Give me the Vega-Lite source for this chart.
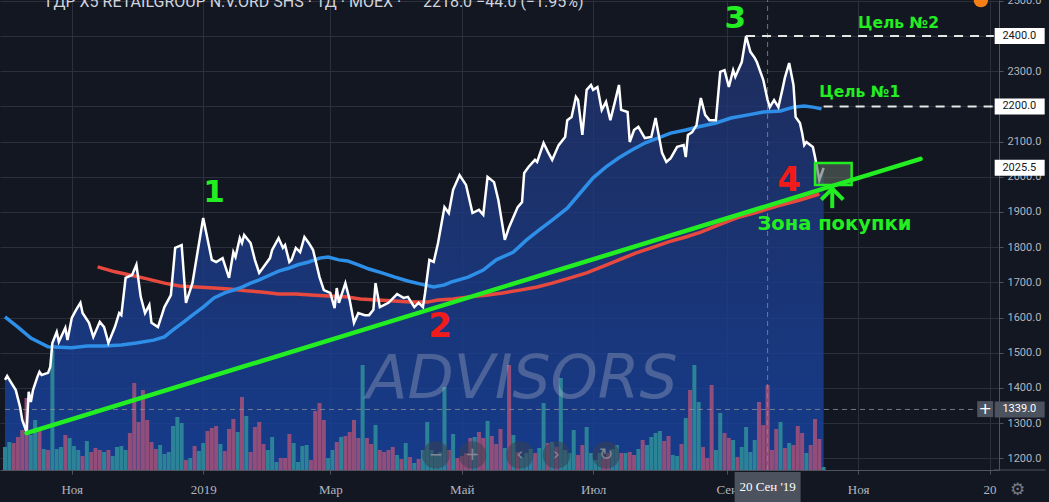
{
  "$schema": "https://vega.github.io/schema/vega-lite/v6.json",
  "width": 999,
  "height": 470,
  "autosize": {"type": "none"},
  "padding": {"left": 0, "top": 0, "right": 50, "bottom": 32},
  "background": "#131722",
  "config": {"view": {"stroke": null}, "font": "Roboto"},
  "datasets": {
    "px": [
      {"d":"2018-10-01","p":1423},{"d":"2018-10-02","p":1434},{"d":"2018-10-04","p":1414},{"d":"2018-10-06","p":1394},{"d":"2018-10-08","p":1346},{"d":"2018-10-09","p":1309},{"d":"2018-10-11","p":1275},{"d":"2018-10-12","p":1389},{"d":"2018-10-13","p":1360},{"d":"2018-10-14","p":1394},{"d":"2018-10-16","p":1431},{"d":"2018-10-17","p":1446},{"d":"2018-10-18","p":1437},{"d":"2018-10-21","p":1443},{"d":"2018-10-22","p":1460},{"d":"2018-10-23","p":1528},{"d":"2018-10-25","p":1559},{"d":"2018-10-26","p":1531},{"d":"2018-10-29","p":1571},{"d":"2018-10-30","p":1536},
      {"d":"2018-11-01","p":1599},{"d":"2018-11-03","p":1622},{"d":"2018-11-05","p":1642},{"d":"2018-11-06","p":1613},{"d":"2018-11-09","p":1585},{"d":"2018-11-11","p":1545},{"d":"2018-11-14","p":1588},{"d":"2018-11-16","p":1573},{"d":"2018-11-18","p":1528},{"d":"2018-11-21","p":1573},{"d":"2018-11-23","p":1613},{"d":"2018-11-24","p":1607},{"d":"2018-11-26","p":1713},{"d":"2018-11-29","p":1721},
      {"d":"2018-12-01","p":1750},{"d":"2018-12-03","p":1659},{"d":"2018-12-05","p":1613},{"d":"2018-12-07","p":1636},{"d":"2018-12-08","p":1585},{"d":"2018-12-11","p":1573},{"d":"2018-12-14","p":1630},{"d":"2018-12-17","p":1664},{"d":"2018-12-19","p":1798},{"d":"2018-12-22","p":1806},{"d":"2018-12-24","p":1642},{"d":"2018-12-27","p":1698},
      {"d":"2019-01-01","p":1883},{"d":"2019-01-05","p":1764},{"d":"2019-01-07","p":1758},{"d":"2019-01-10","p":1769},{"d":"2019-01-13","p":1713},{"d":"2019-01-15","p":1786},{"d":"2019-01-16","p":1772},{"d":"2019-01-18","p":1826},{"d":"2019-01-19","p":1812},{"d":"2019-01-20","p":1835},{"d":"2019-01-23","p":1812},{"d":"2019-01-25","p":1764},{"d":"2019-01-27","p":1727},{"d":"2019-01-29","p":1744},
      {"d":"2019-02-01","p":1769},{"d":"2019-02-02","p":1792},{"d":"2019-02-05","p":1826},{"d":"2019-02-07","p":1798},{"d":"2019-02-08","p":1806},{"d":"2019-02-10","p":1758},{"d":"2019-02-11","p":1764},{"d":"2019-02-13","p":1798},{"d":"2019-02-15","p":1786},{"d":"2019-02-17","p":1829},{"d":"2019-02-19","p":1812},{"d":"2019-02-21","p":1792},{"d":"2019-02-24","p":1715},{"d":"2019-02-26","p":1678},
      {"d":"2019-03-01","p":1670},{"d":"2019-03-03","p":1627},{"d":"2019-03-04","p":1684},{"d":"2019-03-05","p":1642},{"d":"2019-03-08","p":1698},{"d":"2019-03-10","p":1650},{"d":"2019-03-12","p":1585},{"d":"2019-03-14","p":1613},{"d":"2019-03-17","p":1607},{"d":"2019-03-19","p":1607},{"d":"2019-03-21","p":1622},{"d":"2019-03-22","p":1698},{"d":"2019-03-24","p":1630},{"d":"2019-03-28","p":1642},
      {"d":"2019-04-01","p":1667},{"d":"2019-04-04","p":1656},{"d":"2019-04-06","p":1659},{"d":"2019-04-09","p":1630},{"d":"2019-04-11","p":1642},{"d":"2019-04-13","p":1630},{"d":"2019-04-14","p":1670},{"d":"2019-04-16","p":1764},{"d":"2019-04-18","p":1758},{"d":"2019-04-20","p":1812},{"d":"2019-04-23","p":1914},{"d":"2019-04-25","p":1897},{"d":"2019-04-27","p":1963},{"d":"2019-04-30","p":2005},
      {"d":"2019-05-03","p":1977},{"d":"2019-05-06","p":1897},{"d":"2019-05-09","p":1906},{"d":"2019-05-11","p":1892},{"d":"2019-05-13","p":2000},{"d":"2019-05-16","p":1985},{"d":"2019-05-18","p":1934},{"d":"2019-05-21","p":1821},{"d":"2019-05-23","p":1857},{"d":"2019-05-27","p":1914},{"d":"2019-05-29","p":1928},{"d":"2019-05-30","p":2011},
      {"d":"2019-06-01","p":2028},{"d":"2019-06-04","p":2048},{"d":"2019-06-05","p":2042},{"d":"2019-06-08","p":2096},{"d":"2019-06-10","p":2071},{"d":"2019-06-12","p":2048},{"d":"2019-06-15","p":2090},{"d":"2019-06-18","p":2113},{"d":"2019-06-19","p":2161},{"d":"2019-06-21","p":2170},{"d":"2019-06-23","p":2227},{"d":"2019-06-24","p":2218},{"d":"2019-06-26","p":2119},{"d":"2019-06-28","p":2247},{"d":"2019-06-30","p":2261},
      {"d":"2019-07-01","p":2247},{"d":"2019-07-03","p":2255},{"d":"2019-07-05","p":2190},{"d":"2019-07-07","p":2213},{"d":"2019-07-09","p":2161},{"d":"2019-07-11","p":2210},{"d":"2019-07-13","p":2261},{"d":"2019-07-14","p":2190},{"d":"2019-07-17","p":2184},{"d":"2019-07-18","p":2099},{"d":"2019-07-20","p":2133},{"d":"2019-07-22","p":2142},{"d":"2019-07-25","p":2110},{"d":"2019-07-28","p":2113},{"d":"2019-07-30","p":2167},{"d":"2019-07-31","p":2133},
      {"d":"2019-08-02","p":2068},{"d":"2019-08-04","p":2042},{"d":"2019-08-06","p":2053},{"d":"2019-08-09","p":2085},{"d":"2019-08-12","p":2090},{"d":"2019-08-13","p":2056},{"d":"2019-08-14","p":2119},{"d":"2019-08-16","p":2127},{"d":"2019-08-18","p":2147},{"d":"2019-08-20","p":2224},{"d":"2019-08-22","p":2176},{"d":"2019-08-24","p":2161},{"d":"2019-08-27","p":2161},{"d":"2019-08-29","p":2298},{"d":"2019-08-31","p":2303},
      {"d":"2019-09-02","p":2255},{"d":"2019-09-04","p":2303},{"d":"2019-09-05","p":2284},{"d":"2019-09-08","p":2326},{"d":"2019-09-10","p":2400},{"d":"2019-09-12","p":2355},{"d":"2019-09-14","p":2338},{"d":"2019-09-15","p":2326},{"d":"2019-09-18","p":2275},{"d":"2019-09-20","p":2218},{"d":"2019-09-21","p":2198},{"d":"2019-09-23","p":2218},{"d":"2019-09-25","p":2198},{"d":"2019-09-27","p":2252},{"d":"2019-09-28","p":2281},{"d":"2019-09-30","p":2323},
      {"d":"2019-10-02","p":2261},{"d":"2019-10-03","p":2170},{"d":"2019-10-05","p":2153},{"d":"2019-10-06","p":2125},{"d":"2019-10-07","p":2090},{"d":"2019-10-08","p":2099},{"d":"2019-10-11","p":2085},{"d":"2019-10-12","p":2056},{"d":"2019-10-14","p":1991},{"d":"2019-10-16","p":2025.5}
    ],
    "vol": [
      {"d":"2018-10-01","v":230,"c":"u"},{"d":"2018-10-03","v":280,"c":"u"},{"d":"2018-10-05","v":270,"c":"d"},{"d":"2018-10-07","v":330,"c":"d"},{"d":"2018-10-09","v":400,"c":"d"},{"d":"2018-10-11","v":720,"c":"d"},{"d":"2018-10-13","v":350,"c":"u"},{"d":"2018-10-15","v":500,"c":"u"},{"d":"2018-10-17","v":420,"c":"d"},{"d":"2018-10-19","v":210,"c":"u"},{"d":"2018-10-21","v":200,"c":"d"},{"d":"2018-10-23","v":1200,"c":"u"},{"d":"2018-10-25","v":210,"c":"u"},{"d":"2018-10-27","v":230,"c":"u"},{"d":"2018-10-29","v":350,"c":"d"},{"d":"2018-10-31","v":320,"c":"u"},
      {"d":"2018-11-02","v":240,"c":"u"},{"d":"2018-11-04","v":200,"c":"u"},{"d":"2018-11-06","v":140,"c":"d"},{"d":"2018-11-08","v":290,"c":"u"},{"d":"2018-11-10","v":180,"c":"d"},{"d":"2018-11-12","v":220,"c":"d"},{"d":"2018-11-14","v":200,"c":"d"},{"d":"2018-11-16","v":180,"c":"u"},{"d":"2018-11-18","v":200,"c":"d"},{"d":"2018-11-20","v":140,"c":"u"},{"d":"2018-11-22","v":230,"c":"u"},{"d":"2018-11-24","v":240,"c":"u"},{"d":"2018-11-26","v":200,"c":"u"},{"d":"2018-11-28","v":370,"c":"d"},{"d":"2018-11-30","v":870,"c":"d"},
      {"d":"2018-12-02","v":480,"c":"d"},{"d":"2018-12-04","v":800,"c":"d"},{"d":"2018-12-06","v":500,"c":"d"},{"d":"2018-12-08","v":280,"c":"d"},{"d":"2018-12-10","v":210,"c":"d"},{"d":"2018-12-12","v":250,"c":"u"},{"d":"2018-12-14","v":160,"c":"u"},{"d":"2018-12-16","v":180,"c":"u"},{"d":"2018-12-18","v":440,"c":"u"},{"d":"2018-12-20","v":530,"c":"u"},{"d":"2018-12-22","v":470,"c":"u"},{"d":"2018-12-24","v":100,"c":"d"},{"d":"2018-12-26","v":120,"c":"u"},{"d":"2018-12-28","v":240,"c":"d"},{"d":"2018-12-30","v":190,"c":"u"},
      {"d":"2019-01-01","v":270,"c":"u"},{"d":"2019-01-03","v":390,"c":"d"},{"d":"2019-01-05","v":420,"c":"d"},{"d":"2019-01-07","v":440,"c":"d"},{"d":"2019-01-09","v":260,"c":"u"},{"d":"2019-01-11","v":190,"c":"d"},{"d":"2019-01-13","v":410,"c":"d"},{"d":"2019-01-15","v":510,"c":"d"},{"d":"2019-01-17","v":380,"c":"u"},{"d":"2019-01-19","v":730,"c":"d"},{"d":"2019-01-21","v":540,"c":"u"},{"d":"2019-01-23","v":180,"c":"d"},{"d":"2019-01-25","v":430,"c":"d"},{"d":"2019-01-27","v":480,"c":"d"},{"d":"2019-01-29","v":260,"c":"d"},{"d":"2019-01-31","v":200,"c":"u"},
      {"d":"2019-02-02","v":330,"c":"u"},{"d":"2019-02-04","v":80,"c":"u"},{"d":"2019-02-06","v":120,"c":"d"},{"d":"2019-02-08","v":120,"c":"d"},{"d":"2019-02-10","v":360,"c":"d"},{"d":"2019-02-12","v":270,"c":"u"},{"d":"2019-02-14","v":80,"c":"u"},{"d":"2019-02-16","v":240,"c":"u"},{"d":"2019-02-18","v":250,"c":"u"},{"d":"2019-02-20","v":100,"c":"d"},{"d":"2019-02-22","v":590,"c":"d"},{"d":"2019-02-24","v":670,"c":"d"},{"d":"2019-02-26","v":500,"c":"d"},{"d":"2019-02-28","v":120,"c":"u"},
      {"d":"2019-03-02","v":200,"c":"u"},{"d":"2019-03-04","v":280,"c":"d"},{"d":"2019-03-06","v":330,"c":"u"},{"d":"2019-03-08","v":340,"c":"d"},{"d":"2019-03-10","v":380,"c":"d"},{"d":"2019-03-12","v":500,"c":"d"},{"d":"2019-03-14","v":320,"c":"d"},{"d":"2019-03-16","v":1050,"c":"u"},{"d":"2019-03-18","v":320,"c":"d"},{"d":"2019-03-20","v":260,"c":"d"},{"d":"2019-03-22","v":450,"c":"u"},{"d":"2019-03-24","v":200,"c":"d"},{"d":"2019-03-26","v":180,"c":"d"},{"d":"2019-03-28","v":200,"c":"d"},{"d":"2019-03-30","v":230,"c":"d"},
      {"d":"2019-04-01","v":150,"c":"u"},{"d":"2019-04-03","v":110,"c":"d"},{"d":"2019-04-05","v":270,"c":"u"},{"d":"2019-04-07","v":130,"c":"d"},{"d":"2019-04-09","v":70,"c":"u"},{"d":"2019-04-11","v":110,"c":"d"},{"d":"2019-04-13","v":200,"c":"u"},{"d":"2019-04-15","v":480,"c":"u"},{"d":"2019-04-17","v":200,"c":"u"},{"d":"2019-04-19","v":150,"c":"u"},{"d":"2019-04-21","v":180,"c":"u"},{"d":"2019-04-23","v":830,"c":"u"},{"d":"2019-04-25","v":200,"c":"d"},{"d":"2019-04-27","v":360,"c":"u"},{"d":"2019-04-29","v":120,"c":"d"},
      {"d":"2019-05-01","v":140,"c":"d"},{"d":"2019-05-03","v":170,"c":"d"},{"d":"2019-05-05","v":320,"c":"d"},{"d":"2019-05-07","v":330,"c":"u"},{"d":"2019-05-09","v":380,"c":"d"},{"d":"2019-05-11","v":320,"c":"d"},{"d":"2019-05-13","v":490,"c":"u"},{"d":"2019-05-15","v":340,"c":"d"},{"d":"2019-05-17","v":260,"c":"d"},{"d":"2019-05-19","v":410,"c":"d"},{"d":"2019-05-21","v":220,"c":"u"},{"d":"2019-05-23","v":1050,"c":"d"},{"d":"2019-05-25","v":350,"c":"u"},{"d":"2019-05-27","v":180,"c":"d"},{"d":"2019-05-29","v":130,"c":"u"},{"d":"2019-05-31","v":170,"c":"u"},
      {"d":"2019-06-02","v":210,"c":"u"},{"d":"2019-06-04","v":170,"c":"d"},{"d":"2019-06-06","v":220,"c":"u"},{"d":"2019-06-08","v":670,"c":"u"},{"d":"2019-06-10","v":270,"c":"d"},{"d":"2019-06-12","v":280,"c":"u"},{"d":"2019-06-14","v":230,"c":"d"},{"d":"2019-06-16","v":920,"c":"u"},{"d":"2019-06-18","v":200,"c":"u"},{"d":"2019-06-20","v":170,"c":"u"},{"d":"2019-06-22","v":400,"c":"u"},{"d":"2019-06-24","v":150,"c":"d"},{"d":"2019-06-26","v":250,"c":"d"},{"d":"2019-06-28","v":430,"c":"u"},{"d":"2019-06-30","v":170,"c":"u"},
      {"d":"2019-07-02","v":100,"c":"u"},{"d":"2019-07-04","v":170,"c":"u"},{"d":"2019-07-06","v":120,"c":"d"},{"d":"2019-07-08","v":170,"c":"d"},{"d":"2019-07-10","v":210,"c":"u"},{"d":"2019-07-12","v":250,"c":"u"},{"d":"2019-07-14","v":170,"c":"d"},{"d":"2019-07-16","v":170,"c":"u"},{"d":"2019-07-18","v":180,"c":"d"},{"d":"2019-07-20","v":150,"c":"d"},{"d":"2019-07-22","v":210,"c":"u"},{"d":"2019-07-24","v":300,"c":"d"},{"d":"2019-07-26","v":250,"c":"u"},{"d":"2019-07-28","v":330,"c":"u"},{"d":"2019-07-30","v":370,"c":"u"},
      {"d":"2019-08-01","v":390,"c":"u"},{"d":"2019-08-03","v":290,"c":"d"},{"d":"2019-08-05","v":340,"c":"d"},{"d":"2019-08-07","v":150,"c":"u"},{"d":"2019-08-09","v":140,"c":"u"},{"d":"2019-08-11","v":260,"c":"d"},{"d":"2019-08-13","v":520,"c":"u"},{"d":"2019-08-15","v":800,"c":"d"},{"d":"2019-08-17","v":1050,"c":"u"},{"d":"2019-08-19","v":680,"c":"u"},{"d":"2019-08-21","v":230,"c":"d"},{"d":"2019-08-23","v":120,"c":"d"},{"d":"2019-08-25","v":850,"c":"d"},{"d":"2019-08-27","v":200,"c":"u"},{"d":"2019-08-29","v":570,"c":"u"},{"d":"2019-08-31","v":370,"c":"d"},
      {"d":"2019-09-02","v":320,"c":"d"},{"d":"2019-09-04","v":300,"c":"u"},{"d":"2019-09-06","v":130,"c":"d"},{"d":"2019-09-08","v":230,"c":"u"},{"d":"2019-09-10","v":430,"c":"u"},{"d":"2019-09-12","v":180,"c":"u"},{"d":"2019-09-14","v":300,"c":"u"},{"d":"2019-09-16","v":680,"c":"d"},{"d":"2019-09-18","v":450,"c":"d"},{"d":"2019-09-20","v":850,"c":"d"},{"d":"2019-09-22","v":200,"c":"d"},{"d":"2019-09-24","v":410,"c":"d"},{"d":"2019-09-26","v":480,"c":"u"},{"d":"2019-09-28","v":220,"c":"d"},{"d":"2019-09-30","v":270,"c":"u"},
      {"d":"2019-10-02","v":250,"c":"d"},{"d":"2019-10-04","v":440,"c":"d"},{"d":"2019-10-06","v":370,"c":"d"},{"d":"2019-10-08","v":170,"c":"u"},{"d":"2019-10-10","v":250,"c":"d"},{"d":"2019-10-12","v":510,"c":"d"},{"d":"2019-10-14","v":310,"c":"d"},{"d":"2019-10-16","v":30,"c":"u"}
    ],
    "ma50": [
      {"d":"2018-10-01","p":1602},{"d":"2018-10-07","p":1573},{"d":"2018-10-13","p":1542},{"d":"2018-10-21","p":1517},{"d":"2018-11-01","p":1514},{"d":"2018-11-08","p":1519},{"d":"2018-11-16","p":1519},{"d":"2018-11-24","p":1522},{"d":"2018-12-01","p":1528},{"d":"2018-12-09","p":1536},{"d":"2018-12-14","p":1545},{"d":"2018-12-18","p":1565},{"d":"2018-12-23","p":1588},{"d":"2018-12-27","p":1607},{"d":"2019-01-01","p":1630},{"d":"2019-01-06","p":1656},{"d":"2019-01-11","p":1670},{"d":"2019-01-18","p":1684},{"d":"2019-01-23","p":1698},{"d":"2019-01-27","p":1707},{"d":"2019-02-01","p":1721},{"d":"2019-02-05","p":1732},{"d":"2019-02-10","p":1741},{"d":"2019-02-14","p":1750},{"d":"2019-02-19","p":1758},{"d":"2019-02-24","p":1769},{"d":"2019-02-28","p":1772},{"d":"2019-03-05","p":1764},{"d":"2019-03-09","p":1761},{"d":"2019-03-14","p":1750},{"d":"2019-03-19","p":1738},{"d":"2019-03-25","p":1727},{"d":"2019-03-31","p":1715},{"d":"2019-04-06","p":1704},{"d":"2019-04-12","p":1695},{"d":"2019-04-18","p":1687},{"d":"2019-04-23","p":1693},{"d":"2019-04-26","p":1701},{"d":"2019-05-04","p":1715},{"d":"2019-05-11","p":1735},{"d":"2019-05-17","p":1764},{"d":"2019-05-25","p":1786},{"d":"2019-05-31","p":1820},{"d":"2019-06-06","p":1849},{"d":"2019-06-12","p":1877},{"d":"2019-06-19","p":1911},{"d":"2019-06-25","p":1954},{"d":"2019-07-01","p":1997},{"d":"2019-07-07","p":2028},{"d":"2019-07-13","p":2054},{"d":"2019-07-19","p":2076},{"d":"2019-07-25","p":2096},{"d":"2019-07-31","p":2110},{"d":"2019-08-06","p":2124},{"d":"2019-08-13","p":2133},{"d":"2019-08-19","p":2142},{"d":"2019-08-27","p":2153},{"d":"2019-09-03","p":2167},{"d":"2019-09-11","p":2176},{"d":"2019-09-18","p":2184},{"d":"2019-09-26","p":2187},{"d":"2019-10-02","p":2198},{"d":"2019-10-07","p":2201},{"d":"2019-10-11","p":2198},{"d":"2019-10-15","p":2193}
    ],
    "ma200": [
      {"d":"2018-11-13","p":1744},{"d":"2018-11-21","p":1730},{"d":"2018-11-28","p":1721},{"d":"2018-12-06","p":1710},{"d":"2018-12-14","p":1698},{"d":"2018-12-21","p":1690},{"d":"2018-12-29","p":1687},{"d":"2019-01-06","p":1684},{"d":"2019-01-13","p":1681},{"d":"2019-01-21","p":1676},{"d":"2019-01-28","p":1673},{"d":"2019-02-05","p":1667},{"d":"2019-02-13","p":1667},{"d":"2019-02-20","p":1664},{"d":"2019-02-28","p":1661},{"d":"2019-03-08","p":1659},{"d":"2019-03-15","p":1653},{"d":"2019-03-23","p":1650},{"d":"2019-03-31","p":1647},{"d":"2019-04-07","p":1644},{"d":"2019-04-15","p":1644},{"d":"2019-04-20","p":1650},{"d":"2019-04-27","p":1653},{"d":"2019-05-05","p":1659},{"d":"2019-05-13","p":1664},{"d":"2019-05-20","p":1670},{"d":"2019-05-28","p":1678},{"d":"2019-06-05","p":1687},{"d":"2019-06-12","p":1698},{"d":"2019-06-20","p":1712},{"d":"2019-06-28","p":1727},{"d":"2019-07-05","p":1744},{"d":"2019-07-13","p":1764},{"d":"2019-07-21","p":1784},{"d":"2019-07-28","p":1798},{"d":"2019-08-05","p":1815},{"d":"2019-08-13","p":1829},{"d":"2019-08-20","p":1843},{"d":"2019-08-28","p":1863},{"d":"2019-09-06","p":1884},{"d":"2019-09-15","p":1899},{"d":"2019-09-24","p":1916},{"d":"2019-10-05","p":1934},{"d":"2019-10-14","p":1951}
    ]
  },
  "encoding": {
    "x": {
      "field": "d", "type": "temporal",
      "scale": {"type": "utc", "domain": [{"year": 2018, "month": 10, "date": 1, "utc": true}, {"year": 2020, "month": 1, "date": 3, "hours": 2, "utc": true}]},
      "axis": {
        "title": null,
        "values": [
          {"year": 2018, "month": 11, "date": 1, "utc": true},
          {"year": 2019, "month": 1, "date": 1, "utc": true},
          {"year": 2019, "month": 3, "date": 1, "utc": true},
          {"year": 2019, "month": 5, "date": 1, "utc": true},
          {"year": 2019, "month": 7, "date": 1, "utc": true},
          {"year": 2019, "month": 9, "date": 1, "utc": true},
          {"year": 2019, "month": 11, "date": 1, "utc": true},
          {"year": 2020, "month": 1, "date": 1, "utc": true}
        ],
        "labelExpr": "utcyear(datum.value) == 2020 ? '20' : (utcmonth(datum.value) == 0 ? utcFormat(datum.value, '%Y') : ['Янв','Фев','Мар','Апр','Май','Июн','Июл','Авг','Сен','Окт','Ноя','Дек'][utcmonth(datum.value)])",
        "grid": true, "gridColor": "#2c303c",
        "domainColor": "#50535e", "tickColor": "#50535e", "tickSize": 4,
        "labelColor": "#b2b5be", "labelFont": "Liberation Sans Narrow", "labelFontSize": 13, "labelPadding": 9,
        "labelOverlap": false, "labelFlush": false
      }
    }
  },
  "layer": [
    {
      "data": {"name": "px"},
      "mark": {"type": "area", "color": {"gradient": "linear", "x1": 0, "y1": 0, "x2": 0, "y2": 1, "stops": [{"offset": 0, "color": "rgba(34,52,112,0.75)"}, {"offset": 1, "color": "rgba(22,66,158,0.85)"}]}},
      "encoding": {
        "y": {
          "field": "p", "type": "quantitative",
          "scale": {"domain": [1167, 2502.3], "nice": false, "zero": false},
          "axis": {
            "title": null, "orient": "right",
            "values": [1200, 1300, 1400, 1500, 1600, 1700, 1800, 1900, 2000, 2100, 2200, 2300, 2400, 2500],
            "format": ".1f",
            "labelExpr": "datum.value == 2400 || datum.value == 2200 ? '' : datum.label",
            "grid": true, "gridColor": "#2c303c",
            "domainColor": "#50535e", "tickColor": "#50535e", "tickSize": 4,
            "labelColor": "#b2b5be", "labelFont": "Roboto", "labelFontSize": 11, "labelPadding": 4
          }
        },
        "y2": {"datum": 1167}
      }
    },
    {
      "data": {"name": "vol"},
      "mark": {"type": "bar", "size": 4},
      "encoding": {
        "y": {"field": "v", "type": "quantitative", "scale": {"domain": [0, 4700], "nice": false}, "axis": null},
        "color": {"field": "c", "type": "nominal", "scale": {"domain": ["u", "d"], "range": ["#2c8296", "#924e7a"]}, "legend": null}
      }
    },
    {
      "encoding": {
        "y": {"field": "p", "type": "quantitative", "scale": {"domain": [1167, 2502.3], "nice": false, "zero": false}, "axis": null}
      },
      "layer": [
        {
          "data": {"values": [{"d": "2019-05-29", "p": 1423, "t": "ADVISORS"}]},
          "mark": {"type": "text", "font": "DejaVu Sans", "fontStyle": "italic", "fontSize": 60, "color": "#c3c7d3", "opacity": 0.3, "align": "center", "baseline": "middle"},
          "encoding": {"text": {"field": "t"}}
        },
        {
          "data": {"values": [{"d": "2019-09-20", "p": 1167, "p2": 2502.3}]},
          "mark": {"type": "rule", "color": "#8a8d96", "strokeWidth": 1, "strokeDash": [5, 4], "opacity": 0.8},
          "encoding": {"y2": {"field": "p2"}}
        },
        {
          "data": {"values": [{"d": "2018-10-01", "d2": "2020-01-03", "p": 1339}]},
          "mark": {"type": "rule", "color": "#8a8d96", "strokeWidth": 1, "strokeDash": [5, 4], "opacity": 0.8},
          "encoding": {"x2": {"field": "d2"}}
        },
        {
          "data": {"values": [{"d": "2020-01-03", "d2": "2020-01-27", "p": 1167}]},
          "mark": {"type": "rule", "color": "#50535e", "strokeWidth": 1},
          "encoding": {"x2": {"field": "d2"}}
        },
        {
          "data": {"name": "ma200"},
          "mark": {"type": "line", "color": "#e8493f", "strokeWidth": 3.5}
        },
        {
          "data": {"name": "ma50"},
          "mark": {"type": "line", "color": "#2e8fe8", "strokeWidth": 3.5}
        },
        {
          "data": {"name": "px"},
          "mark": {"type": "line", "color": "#ffffff", "strokeWidth": 2.5}
        },
        {
          "data": {"values": [{"d": "2019-09-10", "d2": "2020-01-03", "p": 2400}, {"d": "2019-10-16", "d2": "2020-01-03", "p": 2200}]},
          "mark": {"type": "rule", "color": "#e6e6e6", "strokeWidth": 2, "strokeDash": [9, 7]},
          "encoding": {"x2": {"field": "d2"}}
        },
        {
          "data": {"values": [{"d": "2019-10-12", "d2": "2019-10-29", "p": 2039, "p2": 1977}]},
          "mark": {"type": "rect", "fill": "#5b6b60", "fillOpacity": 0.6, "stroke": "#22ee22", "strokeWidth": 2.5},
          "encoding": {"x2": {"field": "d2"}, "y2": {"field": "p2"}}
        },
        {
          "data": {"values": [{"d": "2018-10-11", "p": 1272}, {"d": "2019-11-30", "p": 2051}]},
          "mark": {"type": "line", "color": "#22ee22", "strokeWidth": 4.5, "strokeCap": "round"}
        },
        {
          "data": {"values": [{"d": "2019-10-20", "p": 1962, "p2": 1911}]},
          "mark": {"type": "rule", "color": "#22ee22", "strokeWidth": 4},
          "encoding": {"y2": {"field": "p2"}}
        },
        {
          "data": {"values": [{"d": "2019-10-20", "p": 1951}]},
          "mark": {"type": "point", "shape": "M-1,0.5L0,-0.5L1,0.5", "size": 484, "filled": false, "stroke": "#22ee22", "strokeWidth": 4, "opacity": 1}
        },
        {
          "data": {"values": [{"d": "2019-04-19", "p": 1209.7}, {"d": "2019-05-06", "p": 1209.7}, {"d": "2019-05-28", "p": 1209.7}, {"d": "2019-06-14", "p": 1209.7}, {"d": "2019-07-07", "p": 1209.7}]},
          "mark": {"type": "point", "shape": "circle", "size": 760, "filled": true, "color": "#3b4050", "opacity": 0.55}
        },
        {
          "data": {"values": [{"d": "2019-04-19", "p": 1209.7, "t": "−"}, {"d": "2019-05-06", "p": 1209.7, "t": "+"}, {"d": "2019-05-28", "p": 1209.7, "t": "‹"}, {"d": "2019-06-14", "p": 1209.7, "t": "›"}, {"d": "2019-07-07", "p": 1209.7, "t": "↻"}]},
          "mark": {"type": "text", "font": "DejaVu Sans", "fontSize": 17, "color": "#9598a1", "opacity": 0.8, "align": "center", "baseline": "middle"},
          "encoding": {"text": {"field": "t"}}
        },
        {
          "data": {"values": [{"d": "2019-01-06", "p": 1953, "t": "1"}, {"d": "2019-09-05", "p": 2447, "t": "3"}]},
          "mark": {"type": "text", "font": "DejaVu Sans", "fontWeight": "bold", "fontSize": 31, "color": "#22ee22", "align": "center", "baseline": "middle"},
          "encoding": {"text": {"field": "t"}}
        },
        {
          "data": {"values": [{"d": "2019-04-21", "p": 1573, "t": "2"}, {"d": "2019-09-30", "p": 1987, "t": "4"}]},
          "mark": {"type": "text", "font": "DejaVu Sans", "fontWeight": "bold", "fontSize": 34, "color": "#f21b1b", "align": "center", "baseline": "middle"},
          "encoding": {"text": {"field": "t"}}
        },
        {
          "data": {"values": [{"d": "2019-11-01", "p": 2437, "t": "Цель №2"}, {"d": "2019-10-14", "p": 2241, "t": "Цель №1"}]},
          "mark": {"type": "text", "font": "DejaVu Sans", "fontWeight": "bold", "fontSize": 15.5, "color": "#22ee22", "align": "left", "baseline": "middle"},
          "encoding": {"text": {"field": "t"}}
        },
        {
          "data": {"values": [{"d": "2019-10-21", "p": 1867, "t": "Зона покупки"}]},
          "mark": {"type": "text", "font": "DejaVu Sans", "fontWeight": "bold", "fontSize": 19.5, "color": "#22ee22", "align": "center", "baseline": "middle"},
          "encoding": {"text": {"field": "t"}}
        },
        {
          "data": {"values": [{"d": "2018-10-20", "p": 2482.4, "t": "ГДР X5 RETAILGROUP N.V.ORD SHS · 1Д · MOEX ·"}]},
          "mark": {"type": "text", "font": "Roboto", "fontSize": 16, "color": "#d1d4dc", "align": "left", "baseline": "alphabetic"},
          "encoding": {"text": {"field": "t"}}
        },
        {
          "data": {"values": [{"d": "2019-04-13", "p": 2482.4, "t": "2218.0  −44.0 (−1.95%)"}]},
          "mark": {"type": "text", "font": "Roboto", "fontSize": 16, "color": "#d1d4dc", "align": "left", "baseline": "alphabetic"},
          "encoding": {"text": {"field": "t"}}
        },
        {
          "data": {"values": [{"d": "2019-12-28", "p": 2502}]},
          "mark": {"type": "point", "shape": "circle", "size": 210, "filled": true, "color": "#f57f17", "opacity": 1}
        },
        {
          "data": {"values": [{"d": "2020-01-15", "p": 2400}, {"d": "2020-01-15", "p": 2200}, {"d": "2020-01-15", "p": 2025.5}]},
          "mark": {"type": "point", "shape": "M-1,-0.32L1,-0.32L1,0.32L-1,0.32Z", "size": 2500, "filled": true, "color": "#ffffff", "opacity": 1}
        },
        {
          "data": {"values": [{"d": "2020-01-15", "p": 1339}]},
          "mark": {"type": "point", "shape": "M-1,-0.32L1,-0.32L1,0.32L-1,0.32Z", "size": 2500, "filled": true, "color": "#4c525e", "opacity": 1}
        },
        {
          "data": {"values": [{"d": "2019-12-30", "p": 1340}]},
          "mark": {"type": "point", "shape": "square", "size": 256, "filled": true, "color": "#4c525e", "opacity": 1}
        },
        {
          "data": {"values": [{"d": "2019-12-30", "p": 1340, "t": "+"}]},
          "mark": {"type": "text", "font": "DejaVu Sans", "fontSize": 16, "color": "#ffffff", "align": "center", "baseline": "middle"},
          "encoding": {"text": {"field": "t"}}
        },
        {
          "data": {"values": [{"d": "2020-01-07", "p": 2400, "t": "2400.0"}, {"d": "2020-01-07", "p": 2200, "t": "2200.0"}, {"d": "2020-01-07", "p": 2025.5, "t": "2025.5"}]},
          "mark": {"type": "text", "font": "Roboto", "fontSize": 11, "color": "#131722", "align": "left", "baseline": "middle"},
          "encoding": {"text": {"field": "t"}}
        },
        {
          "data": {"values": [{"d": "2020-01-07", "p": 1339, "t": "1339.0"}]},
          "mark": {"type": "text", "font": "Roboto", "fontSize": 11, "color": "#ffffff", "align": "left", "baseline": "middle"},
          "encoding": {"text": {"field": "t"}}
        },
        {
          "data": {"values": [{"d": "2020-01-14", "p": 1110, "t": "⚙"}]},
          "mark": {"type": "text", "font": "DejaVu Sans", "fontSize": 17, "color": "#787b86", "align": "center", "baseline": "middle"},
          "encoding": {"text": {"field": "t"}}
        },
        {
          "data": {"values": [{"d": "2019-09-20", "p": 1118.8}]},
          "mark": {"type": "point", "shape": "M-1,-0.4545L1,-0.4545L1,0.4545L-1,0.4545Z", "size": 4356, "filled": true, "color": "#4c525e", "opacity": 1}
        },
        {
          "data": {"values": [{"d": "2019-09-20", "p": 1118.8, "t": "20 Сен '19"}]},
          "mark": {"type": "text", "font": "Liberation Sans Narrow", "fontSize": 13, "color": "#ffffff", "align": "center", "baseline": "middle"},
          "encoding": {"text": {"field": "t"}}
        }
      ]
    }
  ],
  "resolve": {"scale": {"y": "independent"}}
}
